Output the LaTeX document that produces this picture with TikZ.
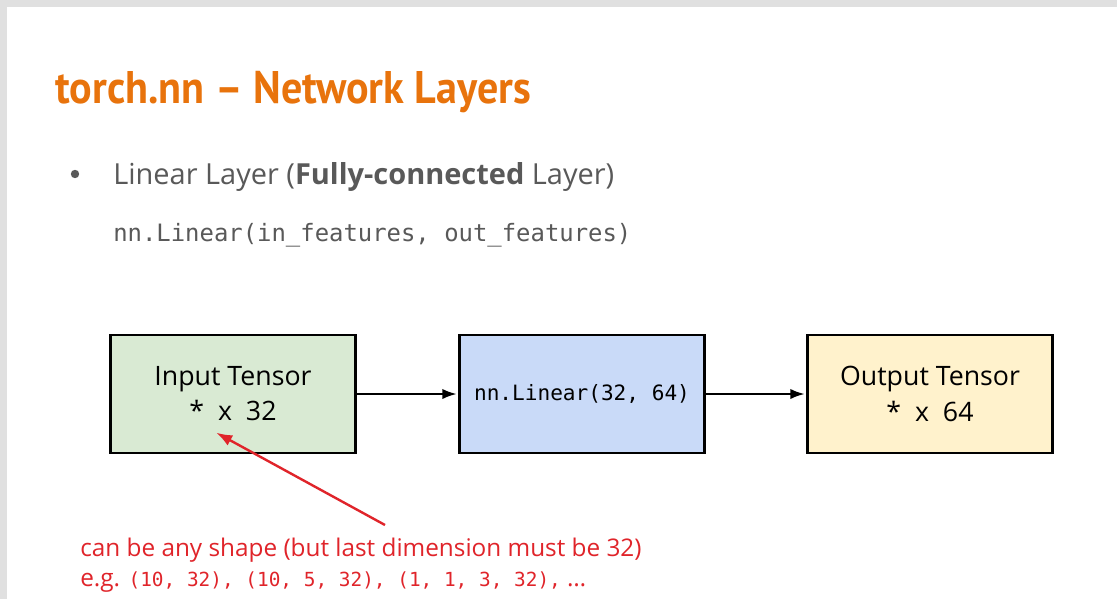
\documentclass[tikz,border=0pt]{standalone}
\usepackage{fontspec}
\setmainfont{Open Sans}
\setmonofont{DejaVu Sans Mono}
\newfontfamily\titlefont{PT Sans}[FakeStretch=0.92]
\usetikzlibrary{arrows.meta}
\usepackage{xcolor}
\definecolor{slideorange}{HTML}{E8730C}
\definecolor{slidegray}{HTML}{595959}
\definecolor{notered}{HTML}{E0242A}
\definecolor{boxgreen}{HTML}{D9EAD3}
\definecolor{boxblue}{HTML}{C9DAF8}
\definecolor{boxyellow}{HTML}{FFF2CC}

\begin{document}
\begin{tikzpicture}[x=0.025cm, y=-0.025cm, shorten >= 1 pt]
\tikzset{layer/.style = {shape=rectangle, draw, line width=2pt, minimum width=245*0.025cm, minimum height=118*0.025cm, align=center, font=\fontsize{19}{25}\selectfont}}
\tikzset{edge/.style = {-{Latex[length=3.6mm,width=2.6mm]}, line width=1.5pt}}
\tikzset{pointer/.style = {-{Latex[length=4mm,width=2.9mm]}, line width=1.7pt, notered}}

\useasboundingbox[fill=white] (0,0) rectangle (1117,599);
\fill[black!12] (0,0) rectangle (1117,7);
\fill[black!12] (0,0) rectangle (7,599);

\node[anchor=base west, inner sep=0pt, text=slideorange, font=\titlefont\bfseries\fontsize{32.5}{40}\selectfont] (title) at (55,103) {torch.nn – Network Layers};
\fill[slidegray] (75,174) circle (4.2);
\node[anchor=base west, text=slidegray, inner sep=0pt, font=\fontsize{20.6}{26}\selectfont] (bullet) at (113,184) {Linear Layer (\textbf{Fully-connected} Layer)};
\node[anchor=base west, text=slidegray, inner sep=0pt, font=\ttfamily\fontsize{17}{22}\selectfont] (call) at (113,241) {nn.Linear(in\_features, out\_features)};

\node[layer, fill=boxgreen] (input) at (233,394) {Input Tensor\\* \ x \ 32};
\node[layer, fill=boxblue] (linear) at (582,394) {\ttfamily\fontsize{15}{20}\selectfont nn.Linear(32, 64)};
\node[layer, fill=boxyellow] (output) at (930,394) {Output Tensor\\* \ x \ 64};

\node[anchor=north west, text=notered, align=left, inner sep=0pt, font=\fontsize{17.3}{20.8}\selectfont] (note) at (80,538) {can be any shape (but last dimension must be 32)\\e.g. {\ttfamily\fontsize{13.8}{20.8}\selectfont(10, 32), (10, 5, 32), (1, 1, 3, 32),} \dots};
\coordinate (tail) at (385,525);
\coordinate (star) at (215,432);

%edges
\draw[edge] (input) edge node{} (linear);
\draw[edge] (linear) edge node{} (output);
\draw[pointer] (tail) -- (star);

\end{tikzpicture}
\end{document}
